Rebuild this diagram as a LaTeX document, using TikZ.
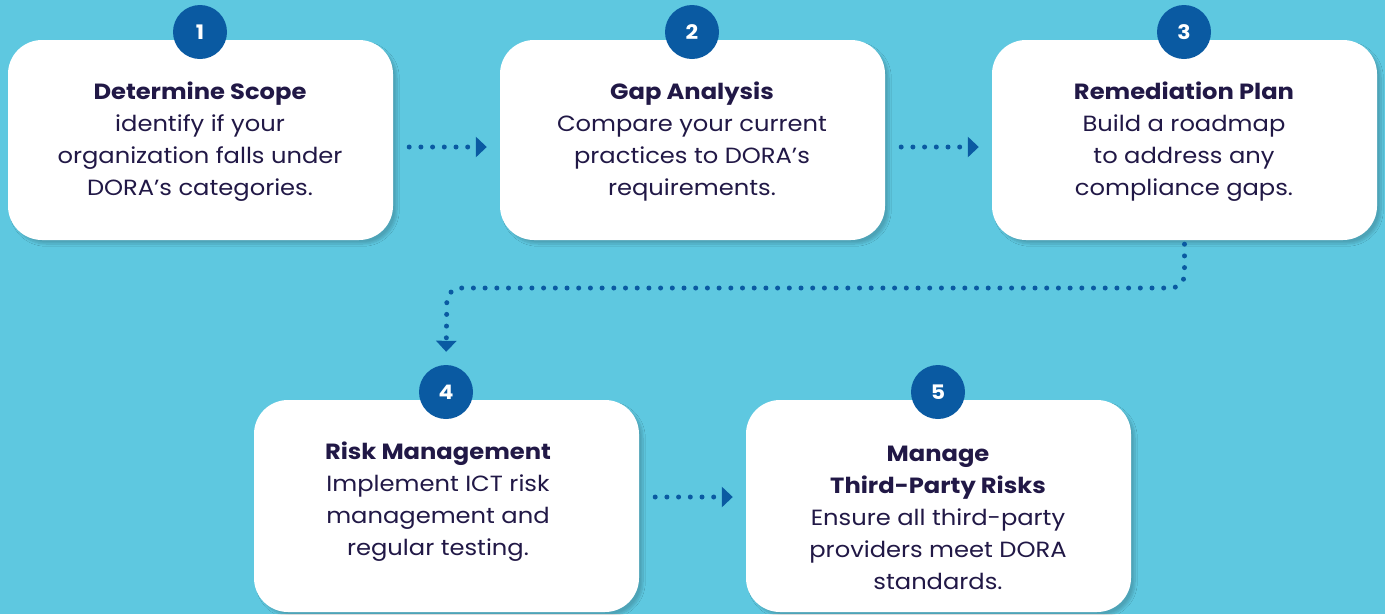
\documentclass[tikz,border=0pt]{standalone}
\usepackage{fontspec}
\setmainfont{Poppins}[FakeStretch=1.1]
\usetikzlibrary{arrows.meta,shadows.blur,calc}
\definecolor{bg}{HTML}{5EC8E0}
\definecolor{navy}{HTML}{0A5AA2}
\definecolor{ink}{HTML}{211846}
\tikzset{
  card/.style={draw=none, fill=white, rounded corners=34pt, minimum width=385pt, minimum height=200pt,
    blur shadow={shadow xshift=4pt, shadow yshift=-4pt, shadow opacity=18, shadow blur steps=10}},
  badge/.style={circle, fill=navy, minimum size=54pt, inner sep=0pt, text=white, font=\fontsize{20}{24}\selectfont\bfseries},
  txt/.style={align=center, text=ink, font=\fontsize{22}{32}\selectfont},
  conn/.style={draw=navy, line width=5pt, line cap=round, dash pattern=on 0pt off 11.7pt,
    -{Triangle[length=11pt,width=20pt]}},
}
\begin{document}
\begin{tikzpicture}[x=1pt,y=-1pt]
\fill[bg] (0,0) rectangle (1385,614);
\useasboundingbox (0,0) rectangle (1385,614);
% cards
\node[card] (b1) at (200.5,140) {};
\node[card] (b2) at (692.5,140) {};
\node[card] (b3) at (1184.5,140) {};
\node[card, minimum height=212pt] (b4) at (446.5,506) {};
\node[card, minimum height=212pt] (b5) at (938.5,506) {};
% badges
\node[badge] (c1) at (200,32) {1};
\node[badge] (c2) at (692,32) {2};
\node[badge] (c3) at (1184,32) {3};
\node[badge] (c4) at (446,392) {4};
\node[badge] (c5) at (938,392) {5};
% texts
\node[txt] (t1) at (200,142) {\textbf{Determine Scope}\\identify if your\\organization falls under\\DORA’s categories.};
\node[txt] (t2) at (692,142) {\textbf{Gap Analysis}\\Compare your current\\practices to DORA’s\\requirements.};
\node[txt] (t3) at (1184,142) {\textbf{Remediation Plan}\\Build a roadmap\\to address any\\compliance gaps.};
\node[txt] (t4) at (438,502) {\textbf{Risk Management}\\Implement ICT risk\\management and\\regular testing.};
\node[txt] (t5) at (938,518) {\textbf{Manage}\\\textbf{Third-Party Risks}\\Ensure all third-party\\providers meet DORA\\standards.};
% connectors
\draw[conn, shorten <=16pt, shorten >=13pt] (b1.east |- 0,147) -- (b2.west |- 0,147);
\draw[conn, shorten <=16pt, shorten >=13pt] (b2.east |- 0,147) -- (b3.west |- 0,147);
\draw[conn, shorten <=16pt, shorten >=13pt] (b4.east |- 0,497) -- (b5.west |- 0,497);
\coordinate (bend) at (447,288);
\draw[conn, rounded corners=14pt, shorten <=4pt, shorten >=13pt] (b3.south) -- (b3.south |- bend) -- (bend) -- (c4.north);
\end{tikzpicture}
\end{document}
